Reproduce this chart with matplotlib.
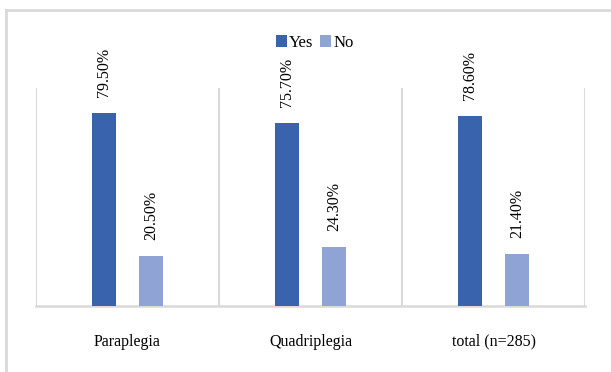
import matplotlib.pyplot as plt
import numpy as np

plt.rcParams['font.family'] = ['Liberation Serif', 'DejaVu Serif']

categories = ['Paraplegia', 'Quadriplegia', 'total (n=285)']
yes_vals = [79.5, 75.7, 78.6]
no_vals = [20.5, 24.3, 21.4]

col_yes = '#3a63ad'
col_no = '#8fa4d5'
grid_col = '#d9d9d9'
fsize = 11.5

fig = plt.figure(figsize=(6.11, 3.72), dpi=100)
W, H = 611., 372.
ax = fig.add_axes([36/W, 1 - 306/H, (585-36)/W, (306-88)/H])

x = np.arange(len(categories))
bw = 0.135
off = 0.128
b1 = ax.bar(x - off, yes_vals, bw, color=col_yes, label='Yes', zorder=3)
b2 = ax.bar(x + off, no_vals, bw, color=col_no, label='No', zorder=3)

# value labels, rotated above each bar
for bars, vals in [(b1, yes_vals), (b2, no_vals)]:
    for b, v in zip(bars, vals):
        ax.annotate('%.2f%%' % v, (b.get_x() + b.get_width()/2, v),
                    xytext=(0, 11.5), textcoords='offset points',
                    rotation=90, ha='center', va='bottom', fontsize=fsize,
                    annotation_clip=False)

ax.set_xlim(-0.5, 2.5)
ax.set_ylim(0, 90)
ax.set_yticks([])
ax.set_xticks(x)
ax.set_xticklabels(categories, fontsize=fsize)
ax.tick_params(axis='x', length=0, pad=20)

for s in ['top', 'right', 'left']:
    ax.spines[s].set_visible(False)
ax.spines['bottom'].set_color(grid_col)
ax.spines['bottom'].set_linewidth(1.8)

# category separators
for xv in [-0.5, 0.5, 1.5, 2.5]:
    ax.axvline(xv, color=grid_col, linewidth=1.5, zorder=1)

ax.legend(loc='lower center', bbox_to_anchor=(0.508, 1.14), ncol=2,
          frameon=False, fontsize=12, handlelength=0.65, handleheight=0.65,
          handletextpad=0.15, columnspacing=0.4, borderaxespad=0)

# outer frame (top and left edges)
fig.add_artist(plt.Line2D([6/W, 1], [1 - 10/H, 1 - 10/H], color=grid_col,
                          linewidth=2, transform=fig.transFigure))
fig.add_artist(plt.Line2D([6/W, 6/W], [0, 1 - 10/H], color=grid_col,
                          linewidth=2, transform=fig.transFigure))

fig.savefig('out.png', dpi=100)
